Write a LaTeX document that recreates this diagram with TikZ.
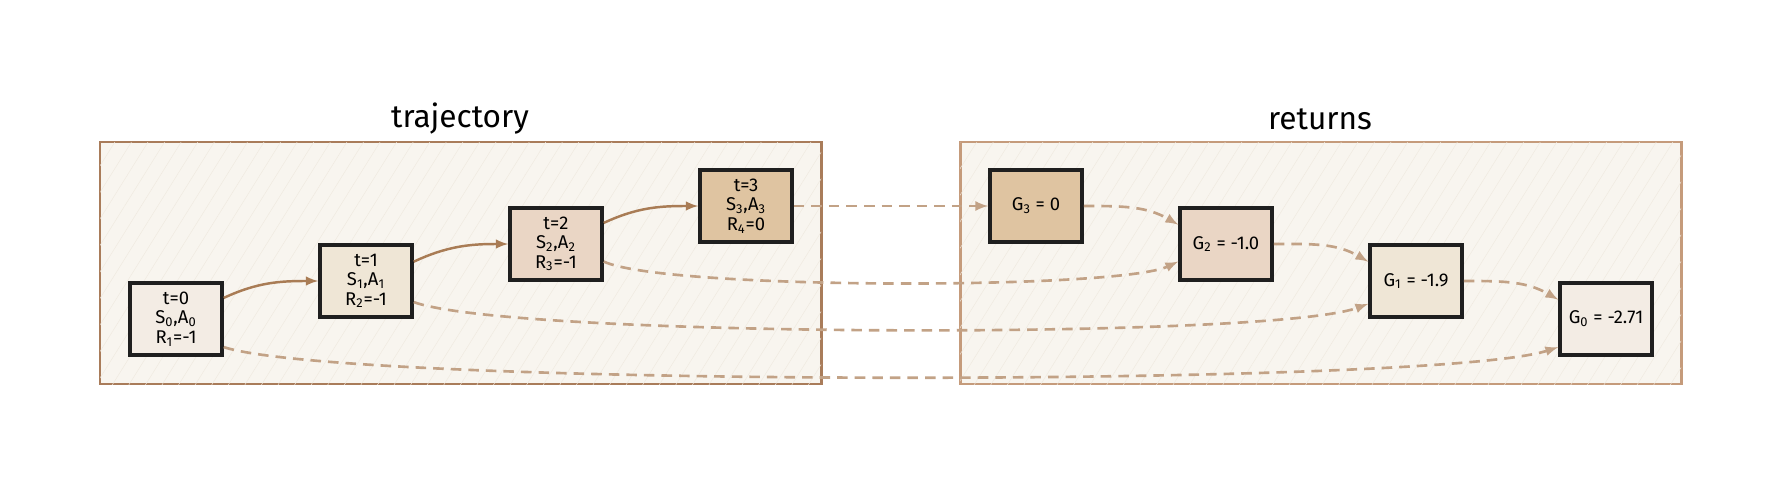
\documentclass[tikz,border=0pt]{standalone}
\usepackage{fontspec}
\setmainfont{Fira Sans}
\usetikzlibrary{arrows,patterns.meta}
\definecolor{clfill}{HTML}{F8F5EF}
\definecolor{hatch}{HTML}{EFE9DF}
\definecolor{trajline}{HTML}{A97C5A}
\definecolor{retline}{HTML}{C59B7B}
\definecolor{stepA}{HTML}{F3ECE4}
\definecolor{stepB}{HTML}{EFE6D6}
\definecolor{stepC}{HTML}{EAD6C5}
\definecolor{stepD}{HTML}{DFC4A1}
\definecolor{solidarr}{HTML}{A97C55}
\definecolor{dasharr}{HTML}{C2A286}
\tikzset{
  cluster/.style = {fill=clfill, line width=1.7pt,
    postaction={pattern={Lines[angle=58,distance=8pt,line width=0.25pt]}, pattern color=hatch}},
  statebox/.style = {draw=black!88, line width=2pt, minimum width=1.84cm, minimum height=1.44cm,
    align=center, inner sep=1pt, font=\fontsize{10.5}{11}\selectfont},
  title/.style = {font=\fontsize{18}{20}\selectfont},
  solidlink/.style = {solidarr, line width=1.4pt},
  dashlink/.style = {dasharr, line width=1.5pt, dash pattern=on 6pt off 4pt}
}
\begin{document}
\begin{tikzpicture}[x = 0.02cm, y = 0.02cm]
\useasboundingbox (0,0) rectangle (1782,485);
\draw [cluster, draw=trajline] (100,101) rectangle (821,343);
\draw [cluster, draw=retline] (960,101) rectangle (1681,343);
\node [title] (trajtitle) at (460,366) {trajectory};
\node [title] (rettitle) at (1320,366) {returns};
\node [statebox, fill=stepA] (t0) at (176,166) {t=0\\S\textsubscript{0},A\textsubscript{0}\\R\textsubscript{1}=-1};
\node [statebox, fill=stepB] (t1) at (366,204) {t=1\\S\textsubscript{1},A\textsubscript{1}\\R\textsubscript{2}=-1};
\node [statebox, fill=stepC] (t2) at (556,241) {t=2\\S\textsubscript{2},A\textsubscript{2}\\R\textsubscript{3}=-1};
\node [statebox, fill=stepD] (t3) at (746,279) {t=3\\S\textsubscript{3},A\textsubscript{3}\\R\textsubscript{4}=0};
\node [statebox, fill=stepD] (g3) at (1036,279) {G\textsubscript{3} = 0};
\node [statebox, fill=stepC] (g2) at (1226,241) {G\textsubscript{2} = -1.0};
\node [statebox, fill=stepB] (g1) at (1416,204) {G\textsubscript{1} = -1.9};
\node [statebox, fill=stepA] (g0) at (1606,166) {G\textsubscript{0} = -2.71};
\draw [solidlink][-latex]([yshift=12pt]t0.east) to[out=25,in=180] (t1.west);
\draw [solidlink][-latex]([yshift=11pt]t1.east) to[out=25,in=180] (t2.west);
\draw [solidlink][-latex]([yshift=12pt]t2.east) to[out=25,in=180] (t3.west);
\draw [dashlink][-latex](t3.east) -- (g3.west);
\draw [dashlink][-latex]([yshift=-10pt]t2.east) to[out=-25,in=205,looseness=0.3] ([yshift=-10pt]g2.west);
\draw [dashlink][-latex]([yshift=-12pt]t1.east) to[out=-20,in=200,looseness=0.28] ([yshift=-13pt]g1.west);
\draw [dashlink][-latex]([yshift=-16pt]t0.east) to[out=-18,in=198,looseness=0.25] ([yshift=-16pt]g0.west);
\draw [dashlink][-latex](g3.east) to[out=0,in=150] ([yshift=11pt]g2.west);
\draw [dashlink][-latex](g2.east) to[out=0,in=150] ([yshift=11pt]g1.west);
\draw [dashlink][-latex](g1.east) to[out=0,in=150] ([yshift=11pt]g0.west);
\end{tikzpicture}
\end{document}
